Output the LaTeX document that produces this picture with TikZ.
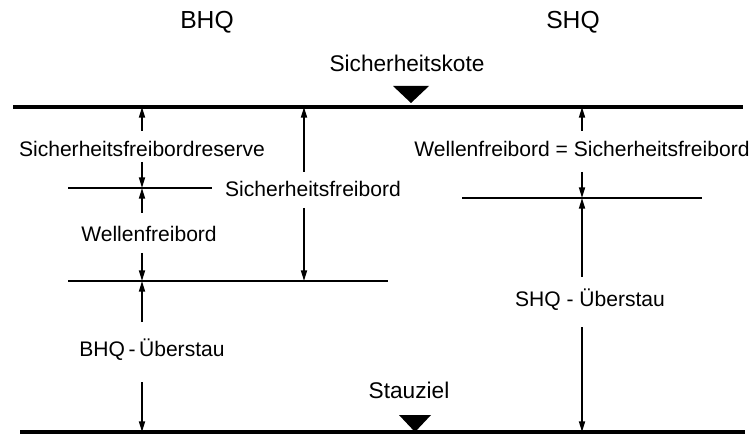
\documentclass[tikz,border=0pt]{standalone}
\usepackage{fontspec}
\setmainfont{Liberation Sans}
\usetikzlibrary{arrows.meta}
\begin{document}
\begin{tikzpicture}[x=0.75pt,y=-0.75pt,
  level/.style={line width=2.3pt},
  sublevel/.style={line width=1.6pt},
  dimarrow/.style={line width=1.3pt,-{Triangle[length=8pt,width=4.5pt]}},
  lbl/.style={inner sep=0pt,font=\fontsize{15.8}{18}\selectfont},
  big/.style={inner sep=0pt,font=\fontsize{17}{20}\selectfont},
  head/.style={inner sep=0pt,font=\fontsize{18.5}{22}\selectfont},
  levelmark/.style={fill=black,draw=none}]
\useasboundingbox (0,0) rectangle (752,434);
% levels
\coordinate (T1) at (13,107); \coordinate (T2) at (743,107);
\coordinate (B1) at (20,432); \coordinate (B2) at (745,432);
\coordinate (La1) at (68,188); \coordinate (La2) at (212,188);
\coordinate (Lb1) at (68,281); \coordinate (Lb2) at (388,281);
\coordinate (Ra1) at (462,198); \coordinate (Ra2) at (702,198);
\draw[level] (T1) -- (T2);
\draw[level] (B1) -- (B2);
\draw[sublevel] (La1) -- (La2);
\draw[sublevel] (Lb1) -- (Lb2);
\draw[sublevel] (Ra1) -- (Ra2);
% texts
\node[head] (bhq) at (207,22) {BHQ};
\node[head] (shq) at (573,22) {SHQ};
\node[big] (kote) at (407,63) {Sicherheitskote};
\node[big] (stau) at (409,390) {Stauziel};
\node[lbl] (sfr) at (142,149) {Sicherheitsfreibordreserve};
\node[lbl] (wf) at (149,234) {Wellenfreibord};
\node[lbl] (bue) at (152,350) {BHQ\,-\,Überstau};
\node[lbl] (sf) at (313,189) {Sicherheitsfreibord};
\node[lbl] (wfs) at (582,149) {Wellenfreibord = Sicherheitsfreibord};
\node[lbl] (sue) at (590,300) {SHQ - Überstau};
% markers
\fill[levelmark] (393,86) -- (429,86) -- (411,103) -- cycle;
\fill[levelmark] (399,415) -- (431,415) -- (415,432) -- cycle;
% arrow end points
\coordinate (a1s) at (142,131); \coordinate (a1e) at (142,107);
\coordinate (a2s) at (142,162); \coordinate (a2e) at (142,188);
\coordinate (a3s) at (142,213); \coordinate (a3e) at (142,188);
\coordinate (a4s) at (142,253); \coordinate (a4e) at (142,281);
\coordinate (a5s) at (142,322); \coordinate (a5e) at (142,281);
\coordinate (a6s) at (142,382); \coordinate (a6e) at (142,432);
\coordinate (a7s) at (304,172); \coordinate (a7e) at (304,107);
\coordinate (a8s) at (304,208); \coordinate (a8e) at (304,281);
\coordinate (a9s) at (582,131); \coordinate (a9e) at (582,107);
\coordinate (a10s) at (582,172); \coordinate (a10e) at (582,198);
\coordinate (a11s) at (582,277); \coordinate (a11e) at (582,198);
\coordinate (a12s) at (582,327); \coordinate (a12e) at (582,432);
\foreach \i in {1,...,12} {\draw[dimarrow] (a\i s) -- (a\i e);}
\end{tikzpicture}
\end{document}
